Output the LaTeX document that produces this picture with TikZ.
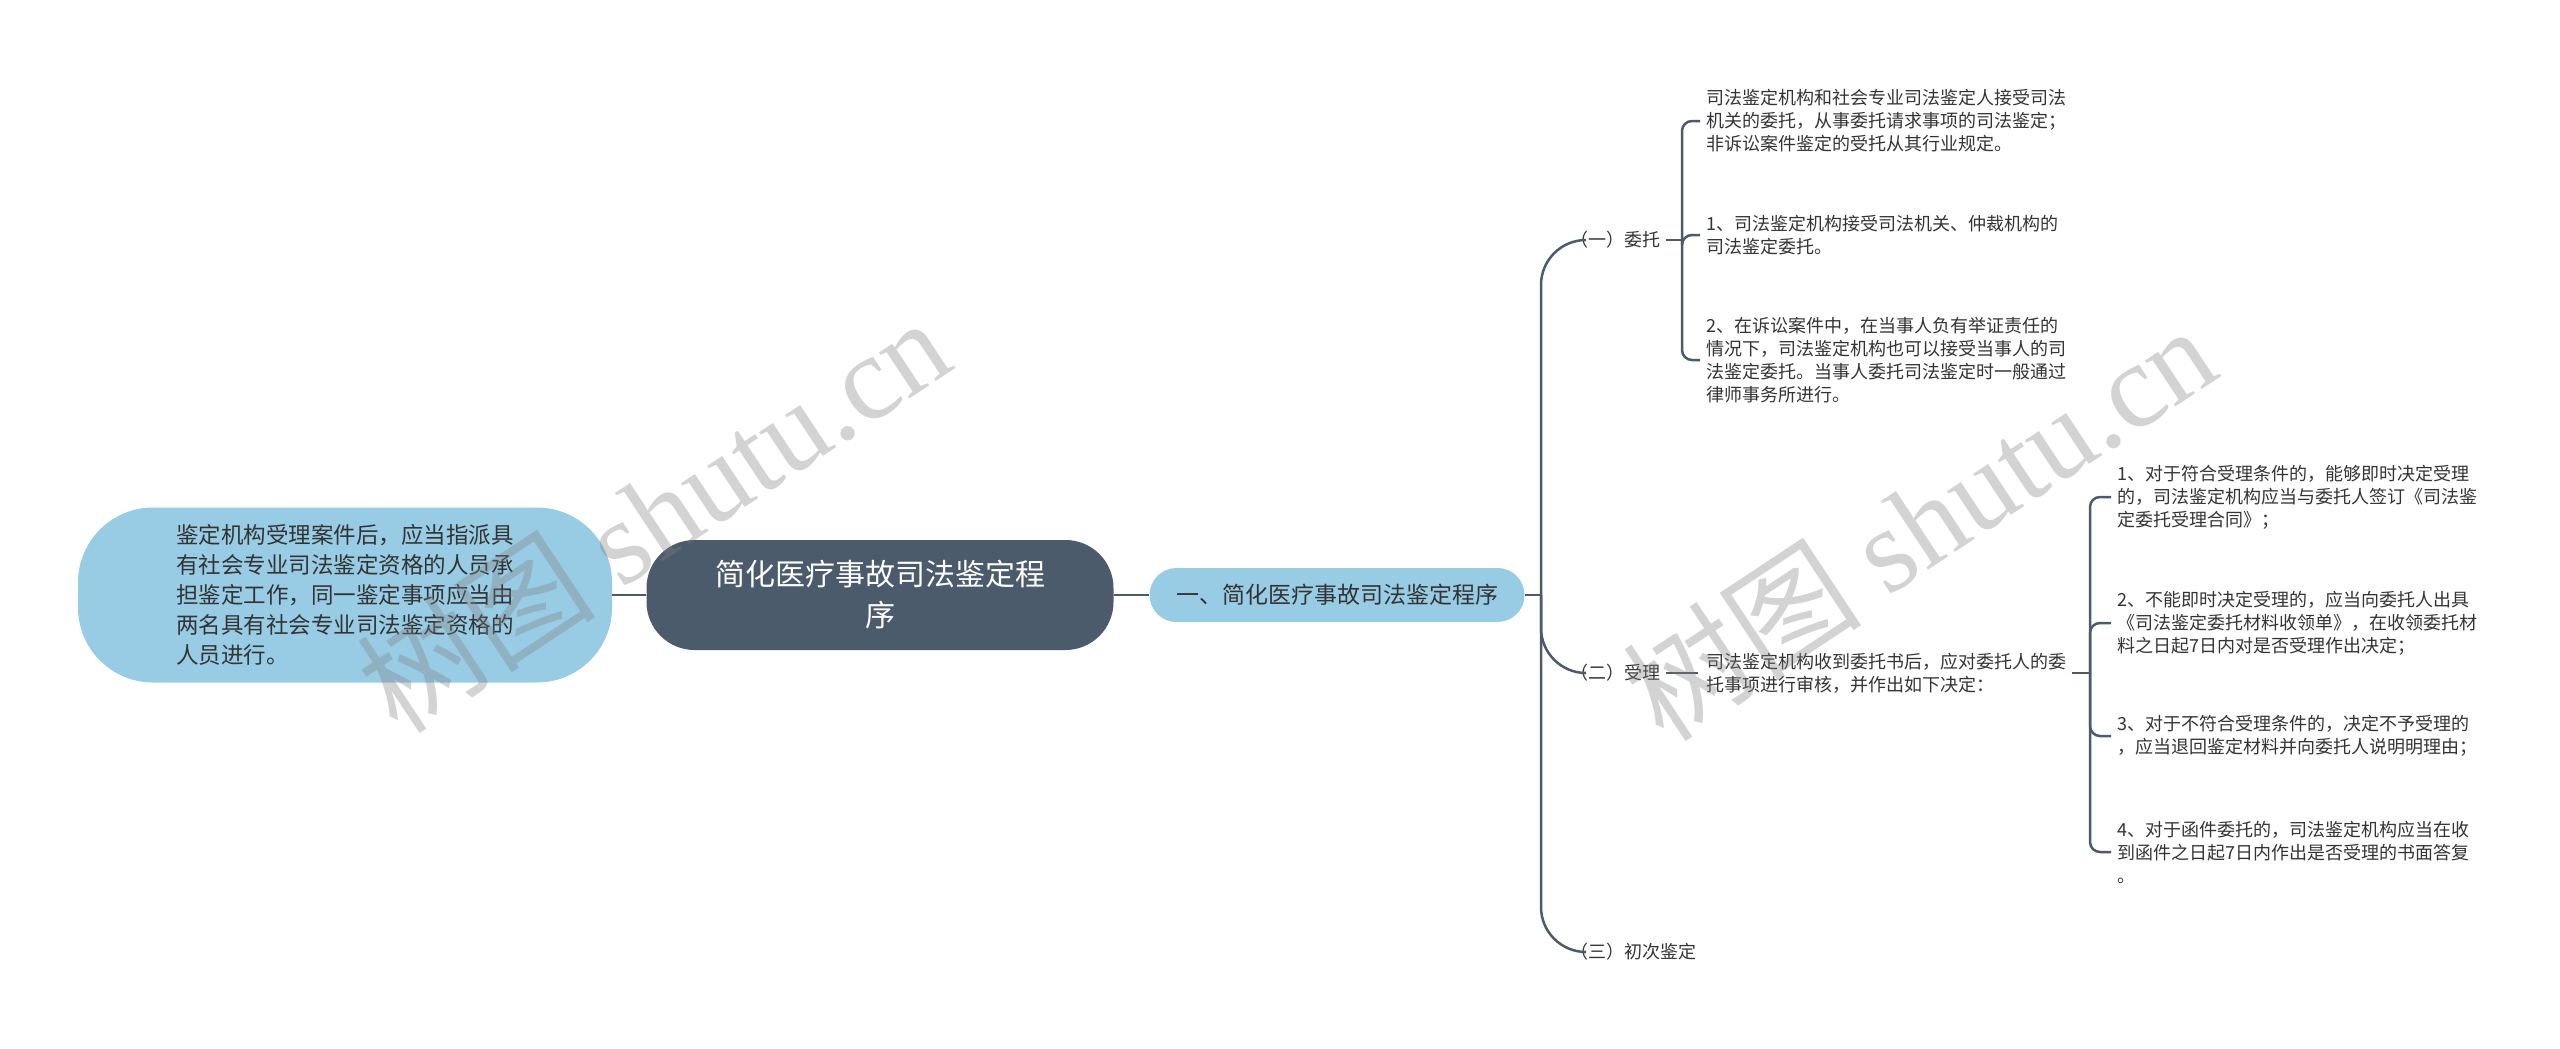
\documentclass[tikz,border=0pt]{standalone}
\usepackage{fontspec}
\setmainfont{Noto Sans CJK SC}
\newfontfamily\wmlatin{Liberation Serif}
\definecolor{lblue}{RGB}{152,204,228}
\definecolor{slate}{RGB}{75,91,107}
\definecolor{ink}{RGB}{51,51,51}
\tikzset{
  edge/.style={draw=slate, line width=2.5pt},
  leaf/.style={anchor=west, inner sep=0pt, align=left, text=ink, font=\fontsize{18}{23}\selectfont},
  wmark/.style={text=gray, opacity=.35, rotate=33.5, font=\fontsize{120}{120}\selectfont},
}
\begin{document}
\begin{tikzpicture}[x=1pt, y=-1pt]
        \path[use as bounding box] (0,0) rectangle (2560,1049);
        % centre
        \node[fill=slate, text=white, rounded corners=48pt, minimum width=467pt, minimum height=110pt, align=center, font=\fontsize{30}{41}\selectfont] at (880,595) (root) {简化医疗事故司法鉴定程\\序};
        \node[fill=lblue, text=ink, rounded corners=75pt, minimum width=534pt, minimum height=175pt, align=left, font=\fontsize{22.5}{30}\selectfont] at (345,595) (note) {鉴定机构受理案件后，应当指派具\\有社会专业司法鉴定资格的人员承\\担鉴定工作，同一鉴定事项应当由\\两名具有社会专业司法鉴定资格的\\人员进行。};
        \node[fill=lblue, text=ink, rounded corners=27pt, minimum width=375pt, minimum height=54pt, font=\fontsize{23}{30}\selectfont] at (1337,595) (main) {一、简化医疗事故司法鉴定程序};
        \path[draw, edge] (note) -- (root);
        \path[draw, edge] (root) -- (main);
        % three steps
        \node[leaf] at (1570,240) (wt) {（一）委托};
        \node[leaf] at (1570,673) (sl) {（二）受理};
        \node[leaf] at (1570,952) (ccj) {（三）初次鉴定};
        \coordinate (trunk) at (1541,595);
        \path[draw, edge] (main) -- (trunk);
        \path[draw, edge, rounded corners=45pt, shorten >=14pt] (trunk) |- (wt.west);
        \path[draw, edge, rounded corners=45pt, shorten >=14pt] (trunk) |- (sl.west);
        \path[draw, edge, rounded corners=45pt, shorten >=14pt] (trunk) |- (ccj.west);
        % weituo
        \node[leaf] at (1706,121) (wta) {司法鉴定机构和社会专业司法鉴定人接受司法\\机关的委托，从事委托请求事项的司法鉴定；\\非诉讼案件鉴定的受托从其行业规定。};
        \node[leaf] at (1706,235) (wtb) {1、司法鉴定机构接受司法机关、仲裁机构的\\司法鉴定委托。};
        \node[leaf] at (1706,360) (wtc) {2、在诉讼案件中，在当事人负有举证责任的\\情况下，司法鉴定机构也可以接受当事人的司\\法鉴定委托。当事人委托司法鉴定时一般通过\\律师事务所进行。};
        \coordinate (wtj) at (1682,240);
        \path[draw, edge, shorten <=6pt] (wt.east) -- (wtj);
        \path[draw, edge, rounded corners=10pt, shorten >=6pt] (wtj) |- (wta.west);
        \path[draw, edge, rounded corners=10pt, shorten >=6pt] (wtj) |- (wtb.west);
        \path[draw, edge, rounded corners=10pt, shorten >=6pt] (wtj) |- (wtc.west);
        % shouli
        \node[leaf] at (1706,673) (sla) {司法鉴定机构收到委托书后，应对委托人的委\\托事项进行审核，并作出如下决定：};
        \path[draw, edge, shorten <=6pt, shorten >=8pt] (sl.east) -- (sla.west);
        \node[leaf] at (2117,497) (sla1) {1、对于符合受理条件的，能够即时决定受理\\的，司法鉴定机构应当与委托人签订《司法鉴\\定委托受理合同》；};
        \node[leaf] at (2117,623) (sla2) {2、不能即时决定受理的，应当向委托人出具\\《司法鉴定委托材料收领单》，在收领委托材\\料之日起7日内对是否受理作出决定；};
        \node[leaf] at (2117,736) (sla3) {3、对于不符合受理条件的，决定不予受理的\\，应当退回鉴定材料并向委托人说明明理由；};
        \node[leaf] at (2117,852) (sla4) {4、对于函件委托的，司法鉴定机构应当在收\\到函件之日起7日内作出是否受理的书面答复\\。};
        \coordinate (slj) at (2090,673);
        \path[draw, edge, shorten <=6pt] (sla.east) -- (slj);
        \path[draw, edge, rounded corners=10pt, shorten >=6pt] (slj) |- (sla1.west);
        \path[draw, edge, rounded corners=10pt, shorten >=6pt] (slj) |- (sla2.west);
        \path[draw, edge, rounded corners=10pt, shorten >=6pt] (slj) |- (sla3.west);
        \path[draw, edge, rounded corners=10pt, shorten >=6pt] (slj) |- (sla4.west);
        % watermark
        \node[wmark] at (653,514) (wm1) {树图 {\wmlatin shutu.cn}};
        \node[wmark] at (1919,522) (wm2) {树图 {\wmlatin shutu.cn}};
      \end{tikzpicture}
\end{document}
